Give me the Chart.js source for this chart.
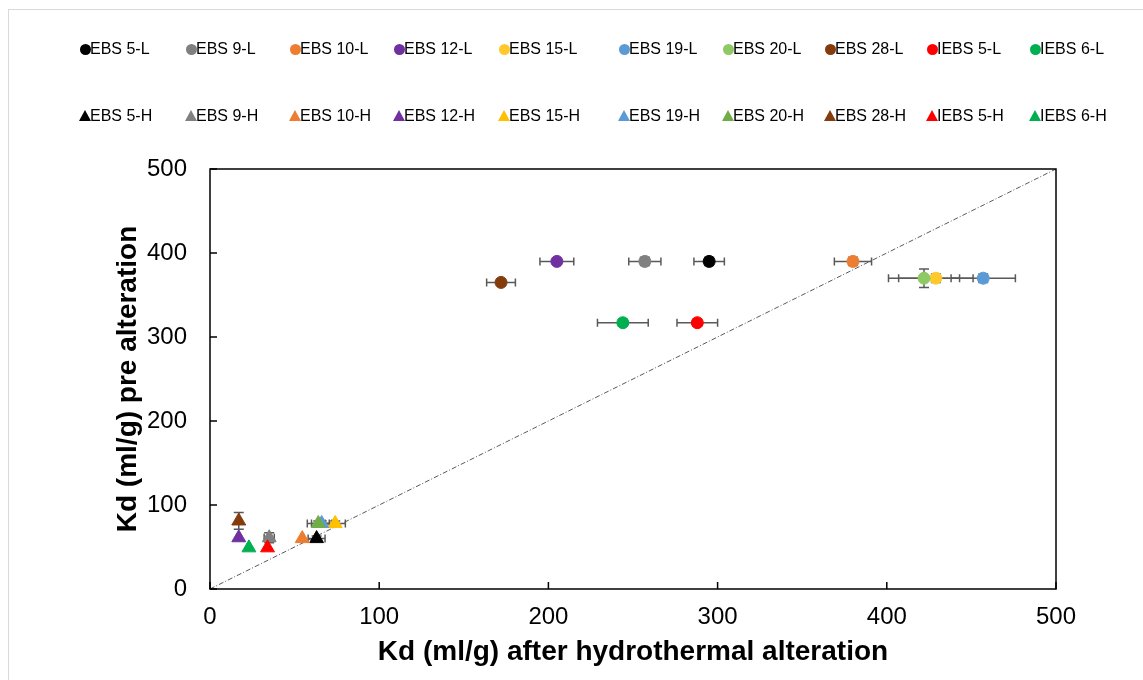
<!DOCTYPE html>
<html>
<head>
<meta charset="utf-8">
<script src="https://cdn.jsdelivr.net/npm/chart.js@4.4.1/dist/chart.umd.min.js"></script>
<style>
  html, body { margin: 0; padding: 0; background: #fff; overflow: hidden; }
  #wrap { position: relative; width: 1143px; height: 680px; }
  #frame { position: absolute; left: 8px; top: 9px; width: 1160px; height: 700px; border: 1px solid #d9d9d9; }
  #chart { position: absolute; left: 0; top: 0; }
  .lg { position: absolute; font: 16px "Liberation Sans", Arial, sans-serif; color: #000; white-space: nowrap; line-height: 18px; }
  .lg i { position: absolute; left: -5px; top: 4px; }
  .lg i.c { width: 11px; height: 11px; border-radius: 50%; left: -5.5px; top: 3.5px; }
  .lg i.t { width: 0; height: 0; border-left: 6px solid transparent; border-right: 6px solid transparent; border-bottom: 11px solid; left: -6px; top: 3px; }
  .lg span { position: absolute; left: 5px; top: 0; }
</style>
</head>
<body>
<div id="wrap">
  <div id="frame"></div>
  <canvas id="chart" width="1143" height="680"></canvas>
  <div id="legend"></div>
</div>
<script>
// low concentration series (circles)
const lNames = ['EBS 5-L', 'EBS 9-L', 'EBS 10-L', 'EBS 12-L', 'EBS 15-L', 'EBS 19-L', 'EBS 20-L', 'EBS 28-L', 'IEBS 5-L', 'IEBS 6-L'];
const lColors = ['#000000', '#808080', '#ED7D31', '#7030A0', '#FFC92E', '#5B9BD5', '#8FC965', '#843C0C', '#FF0000', '#00B050'];
const lX = [295, 257, 380, 205, 429, 457, 422, 172, 288, 244];
const lY = [390, 390, 390, 390, 370, 370, 370, 365, 317, 317];
const lXErr = [9, 9.5, 11, 10, 22, 19, 21, 8.5, 12, 15];
const lYErr = [5, 5, 5, 0, 5, 5, 11, 0, 4, 4];

// high concentration series (triangles)
const hNames = ['EBS 5-H', 'EBS 9-H', 'EBS 10-H', 'EBS 12-H', 'EBS 15-H', 'EBS 19-H', 'EBS 20-H', 'EBS 28-H', 'IEBS 5-H', 'IEBS 6-H'];
const hColors = ['#000000', '#808080', '#ED7D31', '#7030A0', '#FFC000', '#5B9BD5', '#70AD47', '#843C0C', '#FF0000', '#00B050'];
const hX = [63, 35, 54.5, 17, 74, 66, 64, 17, 34, 23];
const hY = [60, 61, 60, 61, 78, 78, 78, 81, 49, 49];
const hXErr = [5, 3, 0, 0, 6, 6, 6.5, 0, 0, 0];
const hYErr = [3, 6, 0, 0, 3, 3, 3, 10, 0, 0];

const axisTicks = [0, 100, 200, 300, 400, 500];
const lineX = [0, 500];
const lineY = [0, 500];

const FONT = '"Liberation Sans", Arial, sans-serif';

const datasets = [];
function addSeries(names, colors, xs, ys, ex, ey, style, radius) {
  names.forEach((n, i) => {
    datasets.push({
      label: n,
      data: [{ x: xs[i], y: ys[i] }],
      errX: ex[i],
      errY: ey[i],
      pointStyle: style,
      pointRadius: radius,
      backgroundColor: colors[i],
      borderColor: colors[i],
      borderWidth: 1,
      showLine: false,
      order: 100 - datasets.length
    });
  });
}
addSeries(lNames, lColors, lX, lY, lXErr, lYErr, 'circle', 6);
addSeries(hNames, hColors, hX, hY, hXErr, hYErr, 'triangle', 8);

datasets.push({
  type: 'line',
  label: '1:1',
  data: lineX.map((v, i) => ({ x: v, y: lineY[i] })),
  borderColor: '#595959',
  borderWidth: 1,
  borderDash: [5, 2, 1, 2],
  pointRadius: 0,
  order: 1000
});

// error bars under the markers
const errorBars = {
  id: 'errorBars',
  beforeDatasetsDraw(chart) {
    const { ctx, scales: { x, y } } = chart;
    ctx.save();
    ctx.strokeStyle = '#595959';
    ctx.lineWidth = 1.5;
    chart.data.datasets.forEach(ds => {
      if (!ds.errX && !ds.errY) return;
      const p = ds.data[0];
      const px = x.getPixelForValue(p.x);
      const py = y.getPixelForValue(p.y);
      ctx.beginPath();
      if (ds.errX) {
        const x1 = x.getPixelForValue(p.x - ds.errX);
        const x2 = x.getPixelForValue(p.x + ds.errX);
        ctx.moveTo(x1, py); ctx.lineTo(x2, py);
        ctx.moveTo(x1, py - 4); ctx.lineTo(x1, py + 4);
        ctx.moveTo(x2, py - 4); ctx.lineTo(x2, py + 4);
      }
      if (ds.errY) {
        const y1 = y.getPixelForValue(p.y - ds.errY);
        const y2 = y.getPixelForValue(p.y + ds.errY);
        ctx.moveTo(px, y1); ctx.lineTo(px, y2);
        ctx.moveTo(px - 5, y1); ctx.lineTo(px + 5, y1);
        ctx.moveTo(px - 5, y2); ctx.lineTo(px + 5, y2);
      }
      ctx.stroke();
    });
    ctx.restore();
  }
};

// plot frame with inward tick marks
const frame = {
  id: 'frame',
  afterDatasetsDraw(chart) {
    const { ctx, chartArea: a, scales: { x, y } } = chart;
    ctx.save();
    ctx.strokeStyle = '#000';
    ctx.lineWidth = 1.5;
    ctx.strokeRect(a.left, a.top, a.right - a.left, a.bottom - a.top);
    ctx.beginPath();
    x.ticks.forEach(t => {
      const px = x.getPixelForValue(t.value);
      ctx.moveTo(px, a.bottom); ctx.lineTo(px, a.bottom - 7);
    });
    y.ticks.forEach(t => {
      const py = y.getPixelForValue(t.value);
      ctx.moveTo(a.left, py); ctx.lineTo(a.left + 7, py);
    });
    ctx.stroke();
    ctx.restore();
  }
};

new Chart(document.getElementById('chart'), {
  type: 'scatter',
  data: { datasets },
  options: {
    responsive: false,
    animation: false,
    layout: { padding: { top: 169, right: 87, left: 107, bottom: 7 } },
    plugins: { legend: { display: false }, tooltip: { enabled: false } },
    scales: {
      x: {
        type: 'linear', min: 0, max: 500,
        afterBuildTicks: s => { s.ticks = axisTicks.map(v => ({ value: v })); },
        afterFit: s => { s.height = 84; },
        grid: { display: false, drawTicks: false },
        border: { display: false },
        ticks: { color: '#000', padding: 14, font: { family: FONT, size: 24 } },
        title: { display: true, text: 'Kd (ml/g) after hydrothermal alteration', color: '#000', font: { family: FONT, size: 28, weight: 'bold' } }
      },
      y: {
        type: 'linear', min: 0, max: 500,
        afterBuildTicks: s => { s.ticks = axisTicks.map(v => ({ value: v })); },
        afterFit: s => { s.width = 103; },
        grid: { display: false, drawTicks: false },
        border: { display: false },
        ticks: { color: '#000', padding: 23, font: { family: FONT, size: 24 } },
        title: { display: true, text: 'Kd (ml/g) pre alteration', color: '#000', font: { family: FONT, size: 28, weight: 'bold' } }
      }
    }
  },
  plugins: [errorBars, frame]
});

// legend laid out in two rows of ten
const legendX = [85, 191, 295, 399, 504, 624, 728, 830, 932, 1035];
const legendRows = [
  { y: 40, names: lNames, colors: lColors, shape: 'c' },
  { y: 107, names: hNames, colors: hColors, shape: 't' }
];
const lg = document.getElementById('legend');
legendRows.forEach(row => {
  row.names.forEach((n, i) => {
    const d = document.createElement('div');
    d.className = 'lg';
    d.style.left = legendX[i] + 'px';
    d.style.top = row.y + 'px';
    const m = document.createElement('i');
    m.className = row.shape;
    if (row.shape === 'c') m.style.background = row.colors[i];
    else m.style.borderBottomColor = row.colors[i];
    const s = document.createElement('span');
    s.textContent = n;
    d.appendChild(m); d.appendChild(s);
    lg.appendChild(d);
  });
});
</script>
</body>
</html>
